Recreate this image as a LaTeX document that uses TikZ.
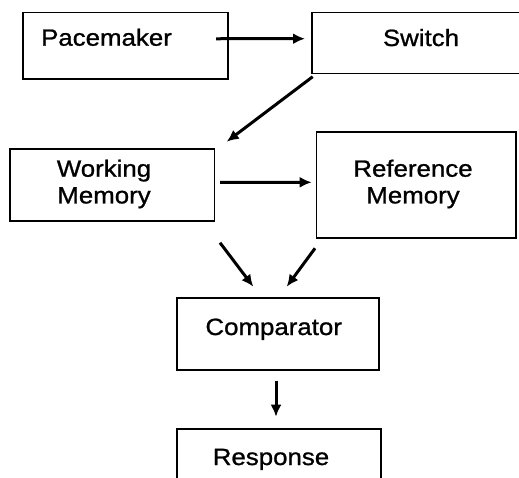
\documentclass[tikz,border=0pt]{standalone}
\usepackage{fontspec}
\setmainfont{Liberation Sans}[FakeStretch=1.1,FakeBold=1]
\usetikzlibrary{positioning,arrows.meta}

\begin{document}
\begin{tikzpicture}[x=1pt, y=-1pt,
    box/.style={rectangle, draw, line width=1.9pt, inner sep=0pt, outer sep=0pt},
    lbl/.style={anchor=base, inner sep=0pt, align=center, font=\fontsize{23.5}{26.7}\selectfont},
    arr/.style={line width=3pt, -{Latex[length=12pt,width=11pt]}}]
    \useasboundingbox (0,0) rectangle (519,477);

    \node [box, minimum width=205pt, minimum height=66.5pt] (pace) at (125.5,45.75) {};
    \node [box, minimum width=228pt, minimum height=61pt] (switch) at (426,43) {};
    \node [box, minimum width=204.5pt, minimum height=72pt] (wm) at (112.25,185) {};
    \node [box, minimum width=199.5pt, minimum height=106.3pt] (rm) at (416.25,185.15) {};
    \node [box, minimum width=202.6pt, minimum height=72.3pt] (comp) at (278,333.85) {};
    \node [box, minimum width=204.3pt, minimum height=72pt] (resp) at (278.85,465) {};

    \node [lbl] (pacetxt) at (106.5,45.7) {Pacemaker};
    \node [lbl] (switchtxt) at (421,46) {Switch};
    \node [lbl] (wmtxt) at (104,203.4) {Working\\Memory};
    \node [lbl] (rmtxt) at (413,203.4) {Reference\\Memory};
    \node [lbl] (comptxt) at (273.7,335) {Comparator};
    \node [lbl] (resptxt) at (271,465) {Response};

    \draw [arr] ([shift={(-12,-7)}]pace.east) -- ([shift={(-7,-4.3)}]switch.west);
    \draw [arr] ([shift={(0.7,3.2)}]switch.south west) -- ([shift={(12.2,-7.3)}]wm.north east);
    \draw [arr] ([shift={(5.5,-2.7)}]wm.east) -- ([shift={(-4.8,-2.85)}]rm.west);
    \draw [arr] ([shift={(5.5,21.7)}]wm.south east) -- ([shift={(-24.7,-11)}]comp.north);
    \draw [arr] ([shift={(-1.5,10)}]rm.south west) -- ([shift={(8.7,-11)}]comp.north);
    \draw [arr] ([shift={(-2,10.7)}]comp.south) -- ([shift={(-2.85,-12.3)}]resp.north);
\end{tikzpicture}
\end{document}
